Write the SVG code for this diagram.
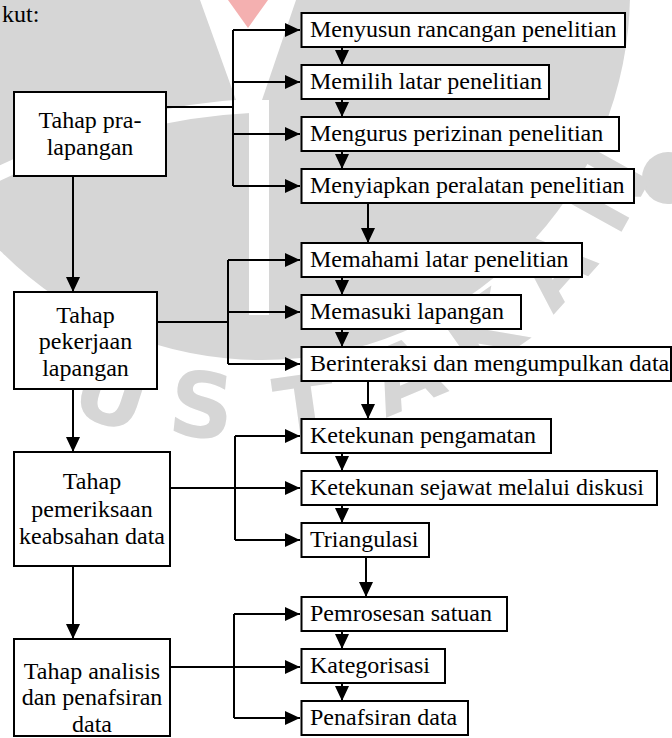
<svg xmlns="http://www.w3.org/2000/svg" width="672" height="738" viewBox="0 0 672 738">
<style>
.box{fill:#fff;stroke:#000;stroke-width:2}
.t{font-family:"Liberation Serif","Times New Roman",serif;font-size:24px;fill:#000}
.c{text-anchor:middle}
.ln{fill:none;stroke:#000;stroke-width:2}
.ar{fill:none;stroke:#000;stroke-width:2;marker-end:url(#ah)}
.wm{font-family:"DejaVu Sans",sans-serif;font-weight:bold;font-size:90px;fill:#d6d6d6;text-anchor:middle}
</style>
<defs>
<marker id="ah" markerUnits="userSpaceOnUse" markerWidth="15" markerHeight="14" refX="15" refY="7" orient="auto">
<path d="M0,0 L15,7 L0,14 z" fill="#000"/>
</marker>
</defs>
<rect width="672" height="738" fill="#fff"/>
<g id="watermark">
<circle cx="262" cy="-8" r="368" fill="#d6d6d6"/>
<polygon points="200,0 296,0 262,100 236,100" fill="#fff"/>
<polygon points="228,0 268,0 248,28" fill="#f4b0b0"/>
<rect x="249" y="100" width="20" height="215" fill="#fff"/>
<path d="M-10,178 Q120,112 250,106" fill="none" stroke="#fff" stroke-width="14"/>
<circle cx="668" cy="178" r="26" fill="#d6d6d6"/>
<text class="wm" transform="translate(112,392) rotate(18)" y="33">U</text>
<text class="wm" transform="translate(202,404) rotate(6)" y="33">S</text>
<text class="wm" transform="translate(305,407) rotate(-8)" y="33">T</text>
<text class="wm" transform="translate(405,374) rotate(-23)" y="33">A</text>
<text class="wm" transform="translate(482,332) rotate(-35)" y="33">K</text>
<text class="wm" transform="translate(552,267) rotate(-48)" y="33">A</text>
<text class="wm" transform="translate(607,190) rotate(-61)" y="33">N</text>
</g>
<text class="t" x="2" y="22">kut:</text>
<g id="connectors">
<path class="ar" d="M73,176 V292"/>
<path class="ar" d="M73,389 V452"/>
<path class="ar" d="M73,566 V639"/>
<path class="ln" d="M166,107 H233 M233,30 V186"/>
<path class="ar" d="M233,30 H300"/>
<path class="ar" d="M233,82 H300"/>
<path class="ar" d="M233,134 H300"/>
<path class="ar" d="M233,186 H300"/>
<path class="ln" d="M157,322 H228 M228,260 V364"/>
<path class="ar" d="M228,260 H300"/>
<path class="ar" d="M228,312 H300"/>
<path class="ar" d="M228,364 H300"/>
<path class="ln" d="M235,436 V540"/>
<path class="ar" d="M235,436 H300"/>
<path class="ar" d="M170,488 H300"/>
<path class="ar" d="M235,540 H300"/>
<path class="ln" d="M234,614 V718"/>
<path class="ar" d="M234,614 H300"/>
<path class="ar" d="M170,667 H300"/>
<path class="ar" d="M234,718 H300"/>
<path class="ar" d="M342,47 V65"/>
<path class="ar" d="M342,99 V117"/>
<path class="ar" d="M342,151 V169"/>
<path class="ar" d="M368,203 V243"/>
<path class="ar" d="M342,277 V295"/>
<path class="ar" d="M342,329 V347"/>
<path class="ar" d="M368,381 V419"/>
<path class="ar" d="M342,453 V471"/>
<path class="ar" d="M342,505 V523"/>
<path class="ar" d="M366,557 V597"/>
<path class="ar" d="M342,631 V649"/>
<path class="ar" d="M342,683 V701"/>
</g>
<g id="n-pra"><rect class="box" x="14" y="92" width="152" height="84"/><text class="t c" x="90" y="128">Tahap pra-</text><text class="t c" x="90" y="155">lapangan</text></g>
<g id="n-pekerjaan"><rect class="box" x="14" y="292" width="143" height="97"/><text class="t c" x="85.5" y="322.5">Tahap</text><text class="t c" x="85.5" y="349">pekerjaan</text><text class="t c" x="85.5" y="375.5">lapangan</text></g>
<g id="n-pemeriksaan"><rect class="box" x="14" y="452" width="156" height="114"/><text class="t c" x="92" y="489">Tahap</text><text class="t c" x="92" y="516.5">pemeriksaan</text><text class="t c" x="92" y="544">keabsahan data</text></g>
<g id="n-analisis"><rect class="box" x="14" y="639" width="156" height="97"/><text class="t c" x="92" y="678.5">Tahap analisis</text><text class="t c" x="92" y="705">dan penafsiran</text><text class="t c" x="92" y="731.5">data</text></g>
<g id="n-r1"><rect class="box" x="301.5" y="13" width="323.5" height="34"/><text class="t" x="310" y="37">Menyusun rancangan penelitian</text></g>
<g id="n-r2"><rect class="box" x="301.5" y="65" width="247.5" height="34"/><text class="t" x="310" y="89">Memilih latar penelitian</text></g>
<g id="n-r3"><rect class="box" x="301.5" y="117" width="317.5" height="34"/><text class="t" x="310" y="141">Mengurus perizinan penelitian</text></g>
<g id="n-r4"><rect class="box" x="301.5" y="169" width="332.5" height="34"/><text class="t" x="310" y="193">Menyiapkan peralatan penelitian</text></g>
<g id="n-r5"><rect class="box" x="301.5" y="243" width="280.5" height="34"/><text class="t" x="310" y="267">Memahami latar penelitian</text></g>
<g id="n-r6"><rect class="box" x="301.5" y="295" width="219.5" height="34"/><text class="t" x="310" y="319">Memasuki lapangan</text></g>
<g id="n-r7"><rect class="box" x="301.5" y="347" width="369.5" height="34"/><text class="t" x="310" y="371">Berinteraksi dan mengumpulkan data</text></g>
<g id="n-r8"><rect class="box" x="301.5" y="419" width="249.5" height="34"/><text class="t" x="310" y="443">Ketekunan pengamatan</text></g>
<g id="n-r9"><rect class="box" x="301.5" y="471" width="355.5" height="34"/><text class="t" x="310" y="495">Ketekunan sejawat melalui diskusi</text></g>
<g id="n-r10"><rect class="box" x="301.5" y="523" width="127.5" height="34"/><text class="t" x="310" y="547">Triangulasi</text></g>
<g id="n-r11"><rect class="box" x="301.5" y="597" width="205.5" height="34"/><text class="t" x="310" y="621">Pemrosesan satuan</text></g>
<g id="n-r12"><rect class="box" x="301.5" y="649" width="143.5" height="34"/><text class="t" x="310" y="673">Kategorisasi</text></g>
<g id="n-r13"><rect class="box" x="301.5" y="701" width="166.5" height="34"/><text class="t" x="310" y="725">Penafsiran data</text></g>
</svg>
